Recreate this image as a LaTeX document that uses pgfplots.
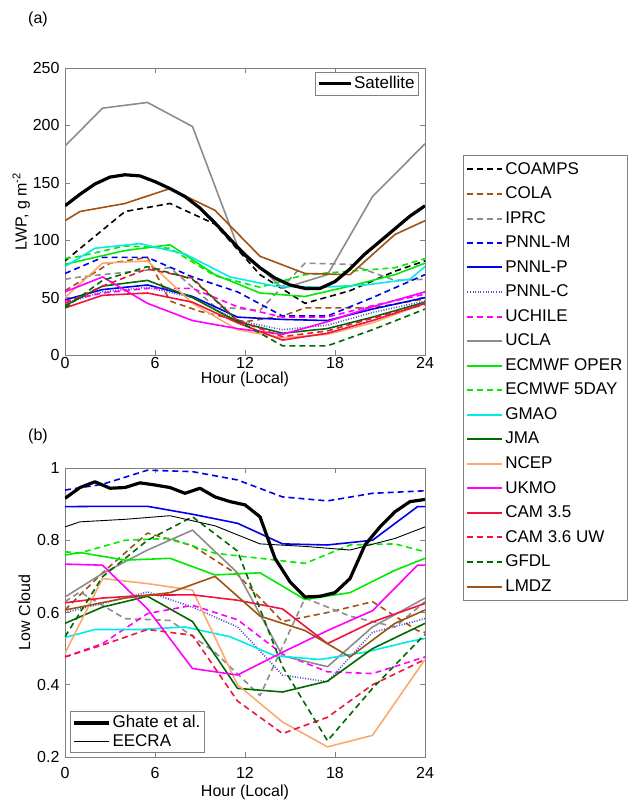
\documentclass[border=0pt]{standalone}
\usepackage{fontspec}
\setmainfont{Liberation Sans}
\usepackage{pgfplots}
\pgfplotsset{compat=1.18}
\definecolor{cbrown}{RGB}{160,82,20}
\definecolor{cgray}{RGB}{140,140,140}
\definecolor{cblue}{RGB}{0,0,235}
\definecolor{cdot}{RGB}{80,80,210}
\definecolor{cmag}{RGB}{255,0,255}
\definecolor{cgreen}{RGB}{0,235,0}
\definecolor{ccyan}{RGB}{0,235,235}
\definecolor{cdkgreen}{RGB}{0,105,0}
\definecolor{corange}{RGB}{250,170,110}
\definecolor{cred}{RGB}{240,20,60}
\newcommand{\ff}{\fontsize{16}{19}\selectfont}
\newcommand{\fl}{\fontsize{17}{20}\selectfont}
\tikzset{
  md/.style={dash pattern=on 6pt off 4pt},
  mdot/.style={dash pattern=on 1pt off 1.6pt},
}
\pgfplotsset{
  myax/.style={
    scale only axis, width=360pt, xmin=0, xmax=24,
    xtick={0,6,12,18,24},
    tick align=inside, major tick length=5pt,
    axis line style={draw=gray},
    tick style={draw=gray, line width=0.6pt},
    tick label style={font=\ff, text=black},
    label style={font=\ff},
    /pgf/number format/assume math mode=true,
    legend style={font=\fl, draw=gray, line width=0.6pt, inner sep=2pt, row sep=0pt},
    legend cell align=left,
    every axis plot/.append style={line join=round},
  },
}
\begin{document}
\ff
\begin{tikzpicture}
\path[use as bounding box] (0pt,0pt) rectangle (627pt,-801pt);
\node[font=\ff] at (38pt,-19pt) {(a)};
\node[font=\ff] at (38pt,-436pt) {(b)};

% ---------------- panel (a)
\begin{axis}[myax, at={(65pt,-355pt)}, anchor=south west, height=287pt,
  ymin=0, ymax=250, ytick={0,50,100,150,200,250},
  xlabel={Hour (Local)}, ylabel={LWP, g m\textsuperscript{-2}},
  x tick label style={yshift=3pt},
  xlabel style={yshift=8pt}, ylabel style={yshift=-8pt},
  legend style={at={(0.983,0.986)}, anchor=north east},
  legend image code/.code={\draw[#1] (0pt,0pt) -- (32pt,0pt);},
]
\addplot[black,line width=1.6pt,md,forget plot] coordinates {(0,82)(4,125)(7,132)(10,114)(13,70)(16,45)(19,56)(22,73)(24,82)};
\addplot[cbrown,line width=1.6pt,md,forget plot] coordinates {(0,56)(3,80)(5.5,85)(7,47)(9,38)(12,29)(14.5,34)(16,41)(20.5,41)(24,49)};
\addplot[cgray,line width=1.6pt,md,forget plot] coordinates {(0,66)(1,68)(4,72)(7,76)(10,42)(13,39)(16,80)(19,79)(22,65)(24,66)};
\addplot[cblue,line width=1.6pt,md,forget plot] coordinates {(0,71)(2.5,85)(5.5,85)(8.5,68)(11.5,55)(14.5,34)(17.5,34)(20.5,50)(24,70)};
\addplot[cblue,line width=1.6pt,forget plot] coordinates {(0,48)(2.5,57)(5.5,61)(8.5,51)(11.5,33)(14.5,31)(17.5,30)(20.5,40)(24,50)};
\addplot[cdot,line width=1.6pt,mdot,forget plot] coordinates {(0,45)(2.5,55)(5.5,59)(8.5,50)(11.5,30)(14.5,22)(17.5,26)(20.5,37)(24,47)};
\addplot[cmag,line width=1.6pt,md,forget plot] coordinates {(0,47)(2.5,54)(5.5,58)(8.5,58)(11.5,42)(14.5,33)(17.5,33)(20.5,43)(24,53)};
\addplot[cgray,line width=1.6pt,forget plot] coordinates {(0,182)(2.5,215)(5.5,220)(8.5,199)(11.5,95)(14.5,58)(17.5,70)(20.5,138)(24,184)};
\addplot[cgreen,line width=1.6pt,forget plot] coordinates {(0,79)(1,82)(4,91)(7,96)(10,70)(13,54)(16,51)(19,60)(22,70)(24,80)};
\addplot[cgreen,line width=1.6pt,md,forget plot] coordinates {(0,84)(1,86)(4,95)(7,93)(10,69)(13,59)(16,70)(19,73)(22,76)(24,84)};
\addplot[ccyan,line width=1.6pt,forget plot] coordinates {(0,77)(2,93)(5,97)(8,88)(11,68)(14,60)(17,59)(20,61)(23,66)(24,77)};
\addplot[cdkgreen,line width=1.6pt,forget plot] coordinates {(0,43)(2.5,60)(5.5,65)(8.5,50)(11.5,29)(14.5,19)(17.5,23)(20.5,33)(24,46)};
\addplot[corange,line width=1.6pt,forget plot] coordinates {(0,50)(2.5,80)(5.5,82)(8.5,45)(11.5,22)(14.5,15)(17.5,18)(20.5,28)(24,45)};
\addplot[cmag,line width=1.6pt,forget plot] coordinates {(0,55)(2.5,68)(5.5,45)(8.5,30)(11.5,23)(14.5,18)(17.5,29)(20.5,42)(24,55)};
\addplot[cred,line width=1.6pt,forget plot] coordinates {(0,41)(2.5,52)(5.5,54)(8.5,46)(11.5,28)(14.5,13)(17.5,19)(20.5,30)(24,45)};
\addplot[cred,line width=1.6pt,md,forget plot] coordinates {(0,45)(2.5,60)(5.5,75)(8.5,67)(11.5,30)(14.5,16)(17.5,21)(20.5,32)(24,44)};
\addplot[cdkgreen,line width=1.6pt,md,forget plot] coordinates {(0,41)(2.5,65)(5.5,77)(8.5,66)(11.5,30)(14.5,8)(17.5,8)(20.5,22)(24,40)};
\addplot[cbrown,line width=1.6pt,forget plot] coordinates {(0,117)(1,125)(4,132)(7,145)(10,126)(13,86)(16,71)(19,70)(22,105)(24,117)};
\addplot[black, line width=3.2pt] coordinates {(0,130)(1,140)(2,149)(3,155)(4,157)(5,156)(6,151)(7,145)(8,138)(9,128)(10,115)(11,101)(12,87)(13,76)(14,67)(15,61)(16,58)(17,58)(18,64)(19,75)(20,88)(21,99)(22,110)(23,121)(24,130)};
\addlegendentry{Satellite}
\end{axis}

% ---------------- panel (b)
\begin{axis}[myax, at={(65pt,-757pt)}, anchor=south west, height=289pt,
  ymin=0.2, ymax=1, ytick={0.2,0.4,0.6,0.8,1},
  yticklabels={0.2,0.4,0.6,0.8,1},
  xlabel={Hour (Local)}, ylabel={Low Cloud},
  x tick label style={yshift=-5pt},
  xlabel style={yshift=5pt}, ylabel style={yshift=-4pt},
  legend style={at={(0.014,0.014)}, anchor=south west},
  legend image code/.code={\draw[#1] (0pt,0pt) -- (35pt,0pt);},
]
\addplot[cbrown,line width=1.6pt,md,forget plot] coordinates {(0,.607)(2.5,.71)(5.5,.82)(8.5,.785)(11.5,.705)(14.5,.575)(17.5,.60)(20.5,.63)(23.5,.55)(24,.545)};
\addplot[cgray,line width=1.6pt,md,forget plot] coordinates {(0,.63)(1,.657)(4,.583)(7,.578)(10,.49)(13,.37)(16,.64)(19,.59)(22,.56)(24,.63)};
\addplot[cblue,line width=1.6pt,md,forget plot] coordinates {(0,.939)(2.5,.955)(5.5,.994)(8.5,.99)(11.5,.967)(14.5,.92)(17.5,.909)(20.5,.93)(24,.937)};
\addplot[cblue,line width=1.6pt,forget plot] coordinates {(0,.893)(2.5,.894)(5.5,.894)(8.5,.872)(11.5,.847)(14.5,.79)(17.5,.787)(20.5,.80)(23.5,.893)(24,.893)};
\addplot[cdot,line width=1.6pt,mdot,forget plot] coordinates {(0,.60)(2.5,.625)(5.5,.657)(8.5,.615)(11.5,.56)(14.5,.427)(17.5,.408)(20.5,.545)(24,.583)};
\addplot[cmag,line width=1.6pt,md,forget plot] coordinates {(0,.477)(2.5,.514)(5.5,.597)(8.5,.62)(11.5,.58)(14.5,.485)(17.5,.436)(20.5,.431)(24,.477)};
\addplot[cgray,line width=1.6pt,forget plot] coordinates {(0,.643)(2.5,.708)(5.5,.773)(8.5,.828)(11.5,.71)(14.5,.48)(17.5,.45)(20.5,.56)(24,.64)};
\addplot[cgreen,line width=1.6pt,forget plot] coordinates {(0,.759)(1,.766)(4,.745)(7,.75)(10,.704)(13,.71)(16,.636)(19,.655)(22,.717)(24,.75)};
\addplot[cgreen,line width=1.6pt,md,forget plot] coordinates {(0,.768)(1,.765)(4,.80)(7,.805)(10,.764)(13,.75)(16,.736)(19,.787)(22,.79)(24,.768)};
\addplot[ccyan,line width=1.6pt,forget plot] coordinates {(0,.531)(2,.553)(5,.553)(8,.56)(11,.533)(14,.48)(17,.47)(20,.49)(23,.52)(24,.528)};
\addplot[cdkgreen,line width=1.6pt,forget plot] coordinates {(0,.57)(2.5,.615)(5.5,.645)(8.5,.575)(11.5,.39)(14.5,.38)(17.5,.41)(20.5,.50)(24,.57)};
\addplot[corange,line width=1.6pt,forget plot] coordinates {(0,.487)(2.5,.694)(5.5,.68)(8.5,.662)(11.5,.40)(14.5,.297)(17.5,.228)(20.5,.26)(24,.47)};
\addplot[cmag,line width=1.6pt,forget plot] coordinates {(0,.734)(2.5,.731)(5.5,.61)(8.5,.445)(11.5,.427)(14.5,.49)(17.5,.55)(20.5,.605)(23.5,.731)(24,.731)};
\addplot[cred,line width=1.6pt,forget plot] coordinates {(0,.627)(2.5,.64)(5.5,.648)(8.5,.649)(11.5,.634)(14.5,.61)(17.5,.514)(20.5,.574)(24,.625)};
\addplot[cred,line width=1.6pt,md,forget plot] coordinates {(0,.477)(2.5,.51)(5.5,.553)(8.5,.537)(11.5,.355)(14.5,.265)(17.5,.31)(20.5,.40)(24,.47)};
\addplot[cdkgreen,line width=1.6pt,md,forget plot] coordinates {(0,.533)(2.5,.699)(5.5,.80)(8.5,.865)(11.5,.77)(14.5,.45)(17.5,.245)(20.5,.39)(24,.54)};
\addplot[cbrown,line width=1.6pt,forget plot] coordinates {(0,.607)(1,.615)(4,.64)(7,.655)(10,.70)(13,.59)(16,.55)(19,.477)(22,.57)(24,.607)};
\addplot[black, line width=3.2pt] coordinates {(0,.916)(1,.946)(2,.962)(3,.944)(4,.946)(5,.959)(6,.953)(7,.946)(8,.93)(9,.944)(10,.92)(11,.907)(12,.898)(13,.865)(14,.75)(15,.685)(16,.643)(17,.645)(18,.655)(19,.694)(20,.787)(21,.837)(22,.879)(23,.907)(24,.913)};
\addlegendentry{Ghate et al.}
\addplot[black, line width=0.9pt] coordinates {(0,.837)(1,.851)(4,.858)(7,.868)(10,.84)(13,.79)(16,.783)(19,.773)(22,.805)(24,.837)};
\addlegendentry{EECRA}
\end{axis}

% ---------------- shared legend
\begin{axis}[at={(463pt,-600pt)}, anchor=south west, scale only axis,
  width=160pt, height=445pt, hide axis, xmin=0, xmax=1, ymin=0, ymax=1,
  legend style={at={(0,1)}, anchor=north west, font=\fl, draw=gray, line width=0.6pt,
    inner xsep=3pt, inner ysep=5pt, row sep=6.3pt},
  legend cell align=left,
  legend image code/.code={\draw[#1] (0pt,0pt) -- (35pt,0pt);},
]
\addlegendimage{black,line width=2pt,md}\addlegendentry{COAMPS}
\addlegendimage{cbrown,line width=2pt,md}\addlegendentry{COLA}
\addlegendimage{cgray,line width=2pt,md}\addlegendentry{IPRC}
\addlegendimage{cblue,line width=2pt,md}\addlegendentry{PNNL-M}
\addlegendimage{cblue,line width=2pt}\addlegendentry{PNNL-P}
\addlegendimage{cdot,line width=2pt,mdot}\addlegendentry{PNNL-C}
\addlegendimage{cmag,line width=2pt,md}\addlegendentry{UCHILE}
\addlegendimage{cgray,line width=2pt}\addlegendentry{UCLA}
\addlegendimage{cgreen,line width=2pt}\addlegendentry{ECMWF OPER}
\addlegendimage{cgreen,line width=2pt,md}\addlegendentry{ECMWF 5DAY}
\addlegendimage{ccyan,line width=2pt}\addlegendentry{GMAO}
\addlegendimage{cdkgreen,line width=2pt}\addlegendentry{JMA}
\addlegendimage{corange,line width=2pt}\addlegendentry{NCEP}
\addlegendimage{cmag,line width=2pt}\addlegendentry{UKMO}
\addlegendimage{cred,line width=2pt}\addlegendentry{CAM 3.5}
\addlegendimage{cred,line width=2pt,md}\addlegendentry{CAM 3.6 UW}
\addlegendimage{cdkgreen,line width=2pt,md}\addlegendentry{GFDL}
\addlegendimage{cbrown,line width=2pt}\addlegendentry{LMDZ}
\end{axis}
\end{tikzpicture}
\end{document}
